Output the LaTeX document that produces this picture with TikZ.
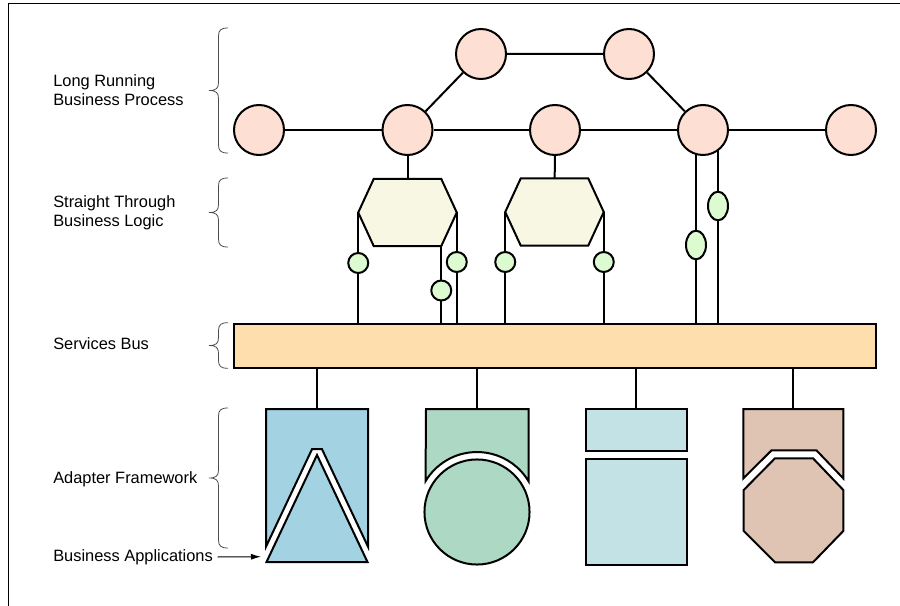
\documentclass[tikz,border=0pt]{standalone}
\usepackage{fontspec}
\setmainfont{Liberation Sans}
\usetikzlibrary{backgrounds,calc,arrows.meta,shapes.geometric}

\definecolor{procfill}{HTML}{FDE0D3}
\definecolor{logicfill}{HTML}{F8F7E4}
\definecolor{portfill}{HTML}{DCFBD0}
\definecolor{busfill}{HTML}{FFDEAD}
\definecolor{appblue}{HTML}{A3D2E3}
\definecolor{appgreen}{HTML}{ADD8C3}
\definecolor{appcyan}{HTML}{C3E2E6}
\definecolor{apptan}{HTML}{DFC4B4}

% curly bracket on the left: top, tip, bottom
\newcommand{\sidebrace}[3]{%
  \draw[bracket] (228,#1) .. controls (221,#1) and (218.5,#1-2) .. (218.5,#1-8)
    -- (218.5,#2+8) .. controls (218.5,#2+2) and (216,#2) .. (209,#2)
    .. controls (216,#2) and (218.5,#2-2) .. (218.5,#2-8)
    -- (218.5,#3+8) .. controls (218.5,#3+2) and (221,#3) .. (228,#3);}

\begin{document}
\begin{tikzpicture}[x=0.75pt,y=0.75pt,
  every node/.style={inner sep=0pt},
  proc/.style={circle,draw,line width=1.5pt,fill=procfill,minimum size=37.5pt},
  hexcore/.style={minimum width=50.25pt,minimum height=50pt},
  logic/.style={draw,line width=1.5pt,fill=logicfill},
  port/.style={circle,draw,line width=1.5pt,fill=portfill,minimum size=15pt},
  portv/.style={ellipse,draw,line width=1.5pt,fill=portfill,minimum width=15pt,minimum height=21.5pt},
  busbox/.style={rectangle,draw,line width=1.5pt,fill=busfill,minimum width=481.5pt,minimum height=33.5pt},
  link/.style={line width=1.5pt},
  app/.style={draw,line width=1.5pt},
  bracket/.style={draw=black!70,line width=0.6pt},
  lbl/.style={anchor=west,align=left,font=\fontsize{12.3}{14.3}\selectfont}]
  \useasboundingbox (0,0) rectangle (900,-606);
  \draw[line width=0.75pt] (8,-606) -- (8,-3.3) -- (900,-3.3);

  % labels and braces
  \node[lbl] (lrbp) at (53,-90) {Long Running\\Business Process};
  \node[lbl] (stbl) at (53,-213) {Straight Through\\Business Logic};
  \node[lbl] (sb) at (53,-344) {Services Bus};
  \node[lbl] (af) at (53,-479.5) {Adapter Framework};
  \node[lbl] (ba) at (53,-557) {Business Applications};
  \sidebrace{-28}{-90.5}{-153}
  \sidebrace{-178}{-212.5}{-247}
  \sidebrace{-322.7}{-345.5}{-368.3}
  \sidebrace{-408}{-478}{-548}

  % business process
  \node[proc] (p1) at (259,-130) {};
  \node[proc] (p2) at (407.5,-130) {};
  \node[proc] (p3) at (555,-130) {};
  \node[proc] (p4) at (703,-130) {};
  \node[proc] (p5) at (851,-130) {};
  \node[proc] (t1) at (481,-54) {};
  \node[proc] (t2) at (629,-54) {};

  % business logic
  \node[hexcore] (h1) at (407.5,-212.5) {};
  \node[hexcore] (h2) at (554.5,-212) {};
  \coordinate (h1l) at ($(h1.west)+(-15.5,0)$);
  \coordinate (h1r) at ($(h1.east)+(15.5,0)$);
  \coordinate (h2l) at ($(h2.west)+(-15.5,0)$);
  \coordinate (h2r) at ($(h2.east)+(15.5,0)$);
  \draw[logic] (h1.north west) -- (h1.north east) -- (h1r) -- (h1.south east) -- (h1.south west) -- (h1l) -- cycle;
  \draw[logic] (h2.north west) -- (h2.north east) -- (h2r) -- (h2.south east) -- (h2.south west) -- (h2l) -- cycle;

  % bus
  \node[busbox] (bus) at (555,-346) {};

  \node[port] (s1) at (h1l |- 0,-263) {};
  \node[port] (s2) at (h1r |- 0,-262) {};
  \node[port] (s3) at (h1.south east |- 0,-290.5) {};
  \node[port] (s4) at (h2l |- 0,-262) {};
  \node[port] (s5) at (h2r |- 0,-262) {};
  \node[portv] (e1) at (718,-206) {};
  \node[portv] (e2) at (696,-245) {};

  % adapters and applications
  \coordinate (a1) at (317,-409);
  \coordinate (a2) at (477,-409);
  \coordinate (a3) at (636,-409);
  \coordinate (a4) at (793.3,-409);
  \coordinate (bapt) at (261,-556.7);
  \draw[app,fill=appblue] (266,-409) -- (368,-409) -- (368,-546.7) -- (321.9,-449) -- (312.1,-449) -- (266,-546.7) -- cycle;
  \draw[app,fill=appblue] (266.5,-562) -- (317,-455) -- (367.5,-562) -- cycle;
  \draw[app,fill=appgreen] (426,-409) -- (528.5,-409) -- (528.5,-481.2) arc[start angle=30.9,end angle=149.1,radius=45pt] -- cycle;
  \draw[app,fill=appgreen] (477,-512) circle[radius=39.4pt];
  \draw[app,fill=appcyan] (585.5,-409) rectangle (687,-451);
  \draw[app,fill=appcyan] (585.5,-458.7) rectangle (687,-564.7);
  \draw[app,fill=apptan] (743.3,-409) -- (843.3,-409) -- (843.3,-478.4) -- (816.4,-450.3) -- (771.6,-450.3) -- (743.3,-478.4) -- cycle;
  \draw[app,fill=apptan] (775,-458.3) -- (813,-458.3) -- (843.3,-490) -- (843.3,-531) -- (813,-562.3) -- (775,-562.3) -- (743.7,-531) -- (743.7,-490) -- cycle;
  \draw[-{Latex[length=7.5pt,width=4.5pt]},line width=0.75pt] ([xshift=3.5pt]ba.east) -- (bapt);

  \begin{scope}[on background layer]
    \draw[link] (p1) -- (p2) -- (p3) -- (p4) -- (p5);
    \draw[link] (p2) -- (t1) -- (t2) -- (p4);
    \draw[link] (p2) -- (h1);
    \draw[link] (p3) -- (h2);
    \draw[link] (h1l) -- (h1l |- bus.north);
    \draw[link] (h1r) -- (h1r |- bus.north);
    \draw[link] (h1.south east) -- (h1.south east |- bus.north);
    \draw[link] (h2l) -- (h2l |- bus.north);
    \draw[link] (h2r) -- (h2r |- bus.north);
    \draw[link] (e1 |- p4) -- (e1 |- bus.north);
    \draw[link] (e2 |- p4) -- (e2 |- bus.north);
    \foreach \a in {a1,a2,a3,a4}
      \draw[link] (\a |- bus.south) -- (\a);
  \end{scope}
\end{tikzpicture}
\end{document}
